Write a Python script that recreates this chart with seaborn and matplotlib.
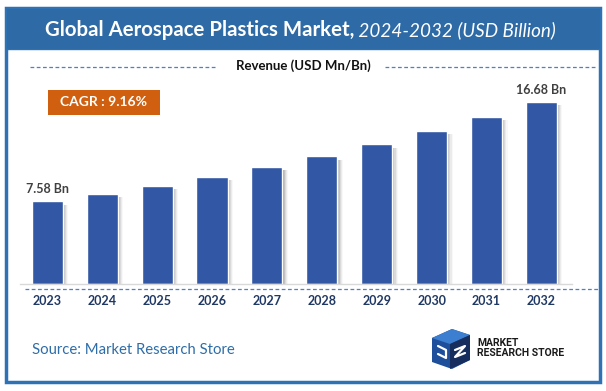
import numpy as np
import matplotlib
matplotlib.use("Agg")
from matplotlib import pyplot as plt
from matplotlib.patches import Rectangle, Polygon
import seaborn as sns

years = ["2023", "2024", "2025", "2026", "2027", "2028", "2029", "2030", "2031", "2032"]
revenue = [7.58, 8.26, 9.00, 9.85, 10.77, 11.72, 12.82, 14.02, 15.33, 16.68]
end_labels = {0: "7.58 Bn", 9: "16.68 Bn"}
title_main = "Global Aerospace Plastics Market,"
title_sub = " 2024-2032 (USD Billion)"
cagr_text = "CAGR : 9.16%"
source_text = "Source: Market Research Store"

BAR = "#3257A5"
FRAME = "#2E72B4"
BAND = "#2D6AA6"
NAVY = "#1F3864"

sns.set_theme(style="white")
plt.rcParams["font.family"] = ["Lato", "DejaVu Sans"]

W, H = 606, 391
fig = plt.figure(figsize=(W / 100, H / 100), dpi=100)

# background layer in pixel coordinates
bg = fig.add_axes([0, 0, 1, 1])
bg.set_xlim(0, W)
bg.set_ylim(H, 0)
bg.axis("off")

bg.add_patch(Rectangle((6, 8), 594, 374, fill=False, edgecolor=FRAME, lw=2.5))
bg.add_patch(Rectangle((6, 8), 594, 41, facecolor=BAND, edgecolor=FRAME, lw=1))

t1 = bg.text(45, 30, title_main, color="white", fontsize=14.7, fontweight="bold",
             va="center", ha="left")
bg.annotate(title_sub, xy=(1, 0.5), xycoords=t1, va="center", ha="left",
            color="white", fontsize=13.6, style="italic")

bg.text(303, 66, "Revenue (USD Mn/Bn)", ha="center", va="center", fontsize=9.5,
        fontweight="bold", color="#111111")
bg.plot([30, 215], [67, 67], ls=(0, (3, 2)), color="#4F7FC7", lw=0.9)
bg.plot([385, 595], [67, 67], ls=(0, (3, 2)), color="#4F7FC7", lw=0.9)

bg.add_patch(Rectangle((48, 90), 112, 25, facecolor="#D0600F", edgecolor="none"))
bg.text(104, 102.5, cagr_text, ha="center", va="center", color="white",
        fontsize=10, fontweight="bold")

bg.plot([25, 600], [289, 289], ls=(0, (3, 2)), color="#4F7FC7", lw=0.9)

bg.text(32, 350, source_text, ha="left", va="center", color="#2E6DA8", fontsize=10.7)

# logo
bg.add_patch(Polygon([(432, 338), (452, 329), (470, 335), (470, 360), (452, 369), (432, 362)],
                     closed=True, facecolor="#1E4F9A", edgecolor="none"))
bg.add_patch(Polygon([(432, 338), (452, 329), (470, 335), (450, 344)],
                     closed=True, facecolor="#3C7FD0", edgecolor="none"))
bg.add_patch(Polygon([(450, 344), (470, 335), (470, 360), (450, 369)],
                     closed=True, facecolor="#152E5E", edgecolor="none"))
bg.plot([438, 446, 446, 438], [346, 350, 358, 354], color="white", lw=1.6)
bg.plot([455, 465, 455, 465], [350, 346, 357, 353], color="white", lw=1.6)
bg.text(477, 343, "MARKET", ha="left", va="center", fontsize=7.5, fontweight="bold",
        color="#1A1A1A", family=["Liberation Sans Narrow", "Roboto", "DejaVu Sans"])
bg.text(477, 353, "RESEARCH STORE", ha="left", va="center", fontsize=7.5, fontweight="bold",
        color="#1A1A1A", family=["Liberation Sans Narrow", "Roboto", "DejaVu Sans"])

# bar chart axes
L, R, B, T = 20, 572, 284, 90
ax = fig.add_axes([L / W, (H - B) / H, (R - L) / W, (B - T) / H])
ax.patch.set_alpha(0)

idx = np.arange(len(years))
bw = 0.565
# soft grey shadow to the right of each bar
for k, a in enumerate([0.22, 0.16, 0.11, 0.07, 0.04]):
    ax.bar(idx + 0.02 + k * 0.02, np.array(revenue) - 0.3, width=bw, color="#505050",
           alpha=a, zorder=1, linewidth=0)

sns.barplot(x=years, y=revenue, color=BAR, width=bw, saturation=1, ax=ax, zorder=2)

ax.set_xlim(-0.497, 9.557)
ax.set_ylim(0, 17.8)
ax.set_yticks([])
ax.set_xlabel("")
ax.set_ylabel("")
for s in ["top", "left", "right"]:
    ax.spines[s].set_visible(False)
ax.spines["bottom"].set_color("#D9D9D9")
ax.spines["bottom"].set_linewidth(1)
ax.tick_params(axis="x", length=0, pad=8)
for lab in ax.get_xticklabels():
    lab.set_fontweight("bold")
    lab.set_color(NAVY)
    lab.set_fontsize(9)

for i, txt in end_labels.items():
    ax.annotate(txt, (i, revenue[i]), xytext=(0, 9), textcoords="offset points",
                ha="center", va="center", fontsize=9, fontweight="bold", color="#404040")

fig.savefig("out.png", dpi=100)
